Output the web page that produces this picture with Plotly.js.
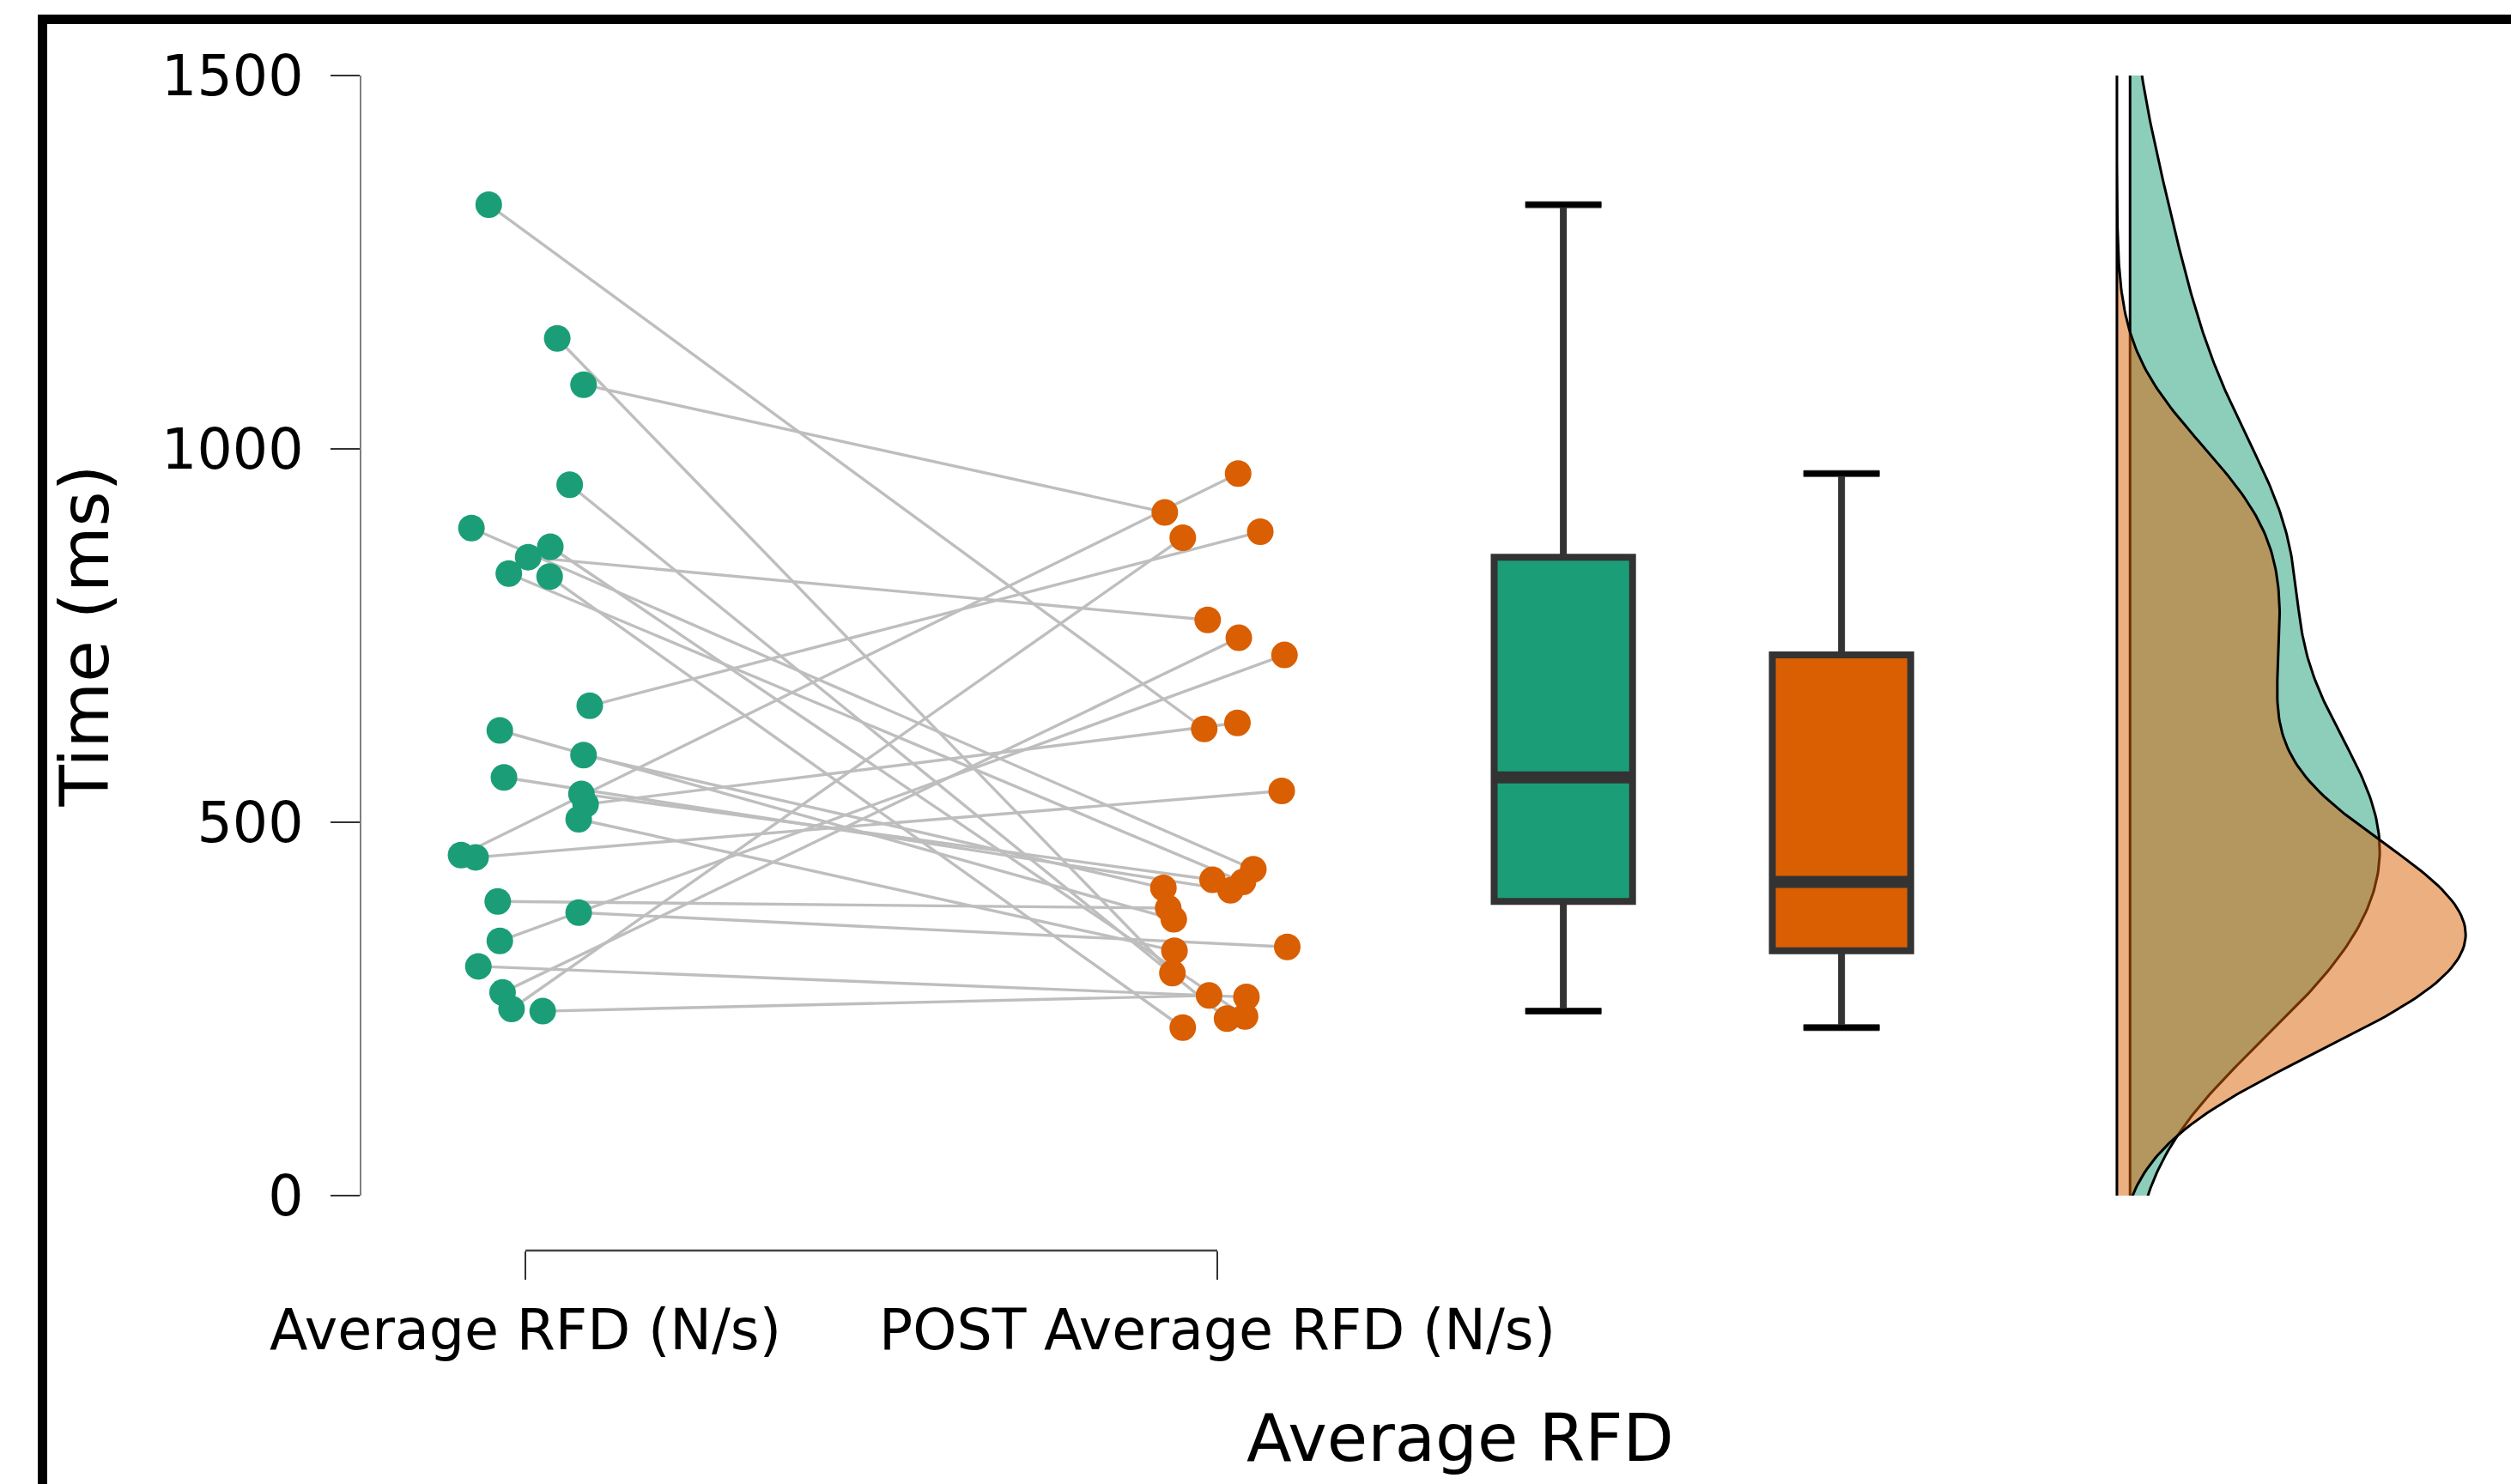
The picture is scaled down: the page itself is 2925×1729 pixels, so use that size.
<!DOCTYPE html>
<html>
<head>
<meta charset="utf-8">
<script src="https://cdn.plot.ly/plotly-3.0.1.min.js"></script>
<style>
html,body{margin:0;padding:0;overflow:hidden;background:#fff;}
#chart{width:3010px;height:1729px;}
</style>
</head>
<body>
<div id="chart"></div>
<script>
// ---------------- data ----------------
const categories = ['Average RFD (N/s)', 'POST Average RFD (N/s)'];
const groupTitle = 'Average RFD';
const yTitle = 'Time (ms)';
const yTickVals = [0, 500, 1000, 1500];

// paired subjects: pre (Average RFD) and post (POST Average RFD), same index = same subject
const preValues  = [1327, 1148, 1086, 952, 894, 855, 869, 833, 829, 656, 623, 590, 560, 538, 524, 504, 456, 453, 394, 379, 341, 307, 272, 250, 247];
const postValues = [625, 298, 915, 237, 437, 771, 240, 420, 225, 889, 370, 412, 409, 423, 633, 328, 967, 542, 385, 333, 724, 266, 747, 881, 268];
// horizontal strip jitter (category units)
const preJitter  = [-0.053, 0.046, 0.084, 0.064, -0.078, 0.004, 0.036, -0.024, 0.035, 0.093, -0.037, 0.084, -0.031, 0.081, 0.087, 0.077, -0.093, -0.072, -0.040, 0.077, -0.037, -0.068, -0.033, -0.020, 0.025];
const postJitter = [-0.019, -0.065, -0.076, 0.014, 0.052, -0.014, 0.040, 0.037, -0.050, 0.062, -0.063, -0.078, 0.019, -0.007, 0.029, -0.062, 0.030, 0.093, -0.071, 0.101, 0.097, 0.042, 0.031, -0.050, -0.012];

// ---------------- styles ----------------
const GREEN = '#1b9e77', ORANGE = '#d95f02';
const boxPos = [1.5, 1.902];
const boxWidth = 0.2;
const capWidth = 0.11;
const densBase = [2.319, 2.300];
const densMaxWidth = 0.504;

// ---------------- helpers ----------------
function quantile(arr, p) {
  const s = arr.slice().sort((a, b) => a - b);
  const h = (s.length - 1) * p, lo = Math.floor(h), hi = Math.ceil(h);
  return s[lo] + (s[hi] - s[lo]) * (h - lo);
}
function boxStats(arr) {
  const q1 = quantile(arr, 0.25), q3 = quantile(arr, 0.75), med = quantile(arr, 0.5);
  const iqr = q3 - q1;
  const lo = Math.min(...arr.filter(v => v >= q1 - 1.5 * iqr));
  const hi = Math.max(...arr.filter(v => v <= q3 + 1.5 * iqr));
  return {q1, q3, med, lo, hi};
}
// Gaussian KDE with R's default bandwidth (bw.nrd0)
function kde(arr, grid) {
  const n = arr.length;
  const mean = arr.reduce((a, b) => a + b, 0) / n;
  const sd = Math.sqrt(arr.reduce((a, b) => a + (b - mean) * (b - mean), 0) / (n - 1));
  const iqr = quantile(arr, 0.75) - quantile(arr, 0.25);
  const bw = 0.9 * Math.min(sd, iqr / 1.34) * Math.pow(n, -0.2);
  return grid.map(y => arr.reduce((s, v) => s + Math.exp(-0.5 * ((y - v) / bw) ** 2), 0) / (n * bw * Math.sqrt(2 * Math.PI)));
}

// ---------------- traces ----------------
const traces = [];

// connecting lines
const lx = [], ly = [];
for (let i = 0; i < preValues.length; i++) {
  lx.push(0 + preJitter[i], 1 + postJitter[i], null);
  ly.push(preValues[i], postValues[i], null);
}
traces.push({type: 'scatter', mode: 'lines', x: lx, y: ly, line: {color: '#bebebe', width: 3.4}, hoverinfo: 'skip', connectgaps: false});

// densities (half violins)
const grid = [];
for (let k = 0; k <= 360; k++) grid.push(-100 + k * 5);
const dPre = kde(preValues, grid), dPost = kde(postValues, grid);
const gmax = Math.max(...dPre, ...dPost);
[[dPre, densBase[0], 'rgba(27,158,119,0.5)'], [dPost, densBase[1], 'rgba(217,95,2,0.5)']].forEach(([d, base, col]) => {
  const xs = d.map(v => base + densMaxWidth * v / gmax);
  const ys = grid.slice();
  xs.push(base, base); ys.push(grid[grid.length - 1], grid[0]);
  xs.push(xs[0]); ys.push(ys[0]);
  traces.push({type: 'scatter', mode: 'lines', x: xs, y: ys, fill: 'toself', fillcolor: col, line: {color: '#000', width: 3}, hoverinfo: 'skip'});
});

// boxes
[[preValues, boxPos[0], GREEN], [postValues, boxPos[1], ORANGE]].forEach(([arr, pos, col]) => {
  const s = boxStats(arr);
  traces.push({type: 'box', x: [pos], q1: [s.q1], median: [s.med], q3: [s.q3], lowerfence: [s.lo], upperfence: [s.hi],
    width: boxWidth, whiskerwidth: 0.55, fillcolor: col, line: {color: '#333333', width: 8}, boxpoints: false, hoverinfo: 'skip'});
  // thicker median bar
  traces.push({type: 'scatter', mode: 'lines', x: [pos - boxWidth / 2, pos + boxWidth / 2], y: [s.med, s.med],
    line: {color: '#333333', width: 14}, hoverinfo: 'skip'});
  // black whisker caps
  traces.push({type: 'scatter', mode: 'lines',
    x: [pos - capWidth / 2, pos + capWidth / 2, null, pos - capWidth / 2, pos + capWidth / 2],
    y: [s.lo, s.lo, null, s.hi, s.hi], line: {color: '#000000', width: 6}, hoverinfo: 'skip'});
});

// points
traces.push({type: 'scatter', mode: 'markers', x: preValues.map((v, i) => 0 + preJitter[i]), y: preValues,
  marker: {color: GREEN, size: 31, line: {width: 0}}, hoverinfo: 'y'});
traces.push({type: 'scatter', mode: 'markers', x: postValues.map((v, i) => 1 + postJitter[i]), y: postValues,
  marker: {color: ORANGE, size: 31, line: {width: 0}}, hoverinfo: 'y'});

// ---------------- layout ----------------
const layout = {
  width: 3010, height: 1729,
  margin: {l: 421, r: 29, t: 88, b: 272},
  paper_bgcolor: '#ffffff', plot_bgcolor: '#ffffff',
  showlegend: false,
  font: {family: 'DejaVu Sans, sans-serif', color: '#000'},
  xaxis: {
    range: [-0.237, 2.939], domain: [0, 1], anchor: 'free', position: 0,
    tickvals: [0, 1], ticktext: categories,
    ticks: 'outside', ticklen: 33, tickwidth: 2.5, tickcolor: '#333',
    showline: false, showgrid: false, zeroline: false,
    tickfont: {size: 65, color: '#000'}, ticklabelstandoff: 3,
    title: {text: groupTitle, font: {size: 77, color: '#000'}, standoff: 62}
  },
  yaxis: {
    range: [0, 1500], domain: [0.04675, 1],
    tickvals: yTickVals, ticks: 'outside', ticklen: 34, tickwidth: 2.5, tickcolor: '#333',
    showline: true, linecolor: '#808080', linewidth: 2.5,
    showgrid: false, zeroline: false,
    tickfont: {size: 65, color: '#000'}, ticklabelstandoff: 18,
    title: {text: yTitle, font: {size: 79, color: '#000'}, standoff: 36}
  },
  shapes: [
    {type: 'line', xref: 'x', yref: 'paper', x0: 0, x1: 1, y0: 0, y1: 0, line: {color: '#444', width: 2.5}},
    {type: 'rect', xref: 'paper', yref: 'paper', x0: -0.14512, x1: 1.3, y0: -0.4, y1: 1.04785,
      line: {color: '#000', width: 11}, fillcolor: 'rgba(0,0,0,0)', layer: 'above'}
  ]
};

Plotly.newPlot('chart', traces, layout, {displayModeBar: false, staticPlot: true});
</script>
</body>
</html>
